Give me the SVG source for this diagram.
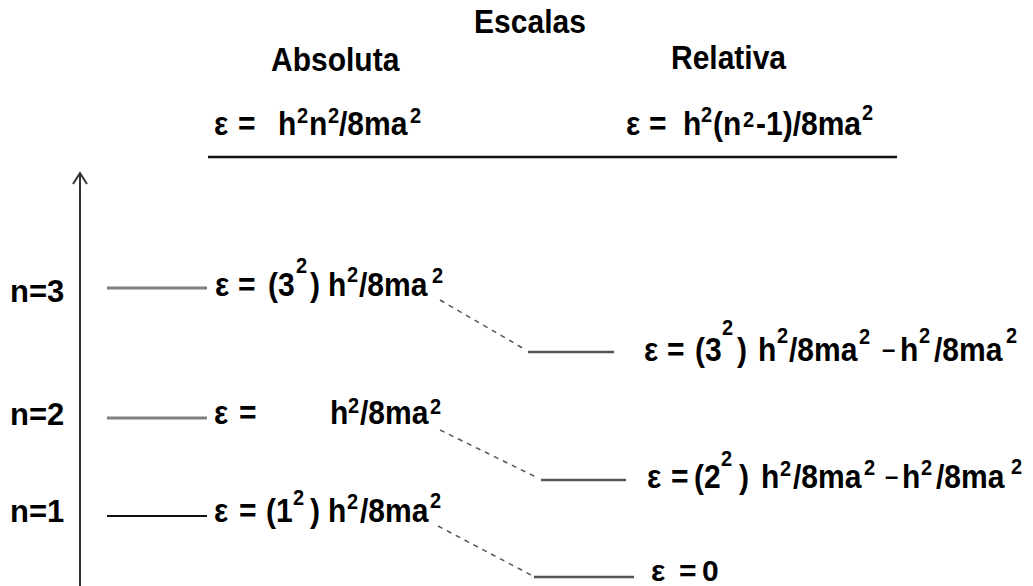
<svg xmlns="http://www.w3.org/2000/svg" width="1033" height="586" viewBox="0 0 1033 586">
<style>
text{font-family:"Liberation Sans",Arial,sans-serif;font-weight:bold;fill:#000;font-size:30px}
.s{font-size:20px}
.d{font-size:24px}
.lbl{font-size:31px}
.lg{stroke:#808080;stroke-width:3;fill:none}
.lk{stroke:#111;stroke-width:2;fill:none}
.lr{stroke:#555;stroke-width:2.5;fill:none}
.dash{stroke:#555;stroke-width:1.5;stroke-dasharray:5 5;fill:none}
.axis{stroke:#333;stroke-width:2;fill:none}
</style>
<rect width="1033" height="586" fill="#fff"/>
<g id="header">
<text x="530" y="33" text-anchor="middle" transform="matrix(1 0 0 1.08 0 -2.64)">Escalas</text>
<text x="271" y="71" transform="matrix(1 0 0 1.08 0 -5.68)">Absoluta</text>
<text x="671" y="69" transform="matrix(1 0 0 1.08 0 -5.52)">Relativa</text>
<text transform="matrix(1 0 0 1.08 0 -10.8)"><tspan x="214" y="135">ε</tspan><tspan x="238" y="135">=</tspan><tspan x="278" y="135">h</tspan><tspan class="s" x="297" y="124">2</tspan><tspan x="309" y="135">n</tspan><tspan class="s" x="328" y="124">2</tspan><tspan x="339" y="135">/8ma</tspan><tspan class="s" x="410" y="124">2</tspan></text>
<text transform="matrix(1 0 0 1.08 0 -10.8)"><tspan x="626" y="135">ε</tspan><tspan x="649" y="135">=</tspan><tspan x="683" y="135">h</tspan><tspan class="s" x="701" y="123">2</tspan><tspan x="713" y="135">(n</tspan><tspan class="s" x="743" y="128">2</tspan><tspan x="756" y="135">-1)/8ma</tspan><tspan class="s" x="862" y="121">2</tspan></text>
<line x1="208" y1="157" x2="897" y2="157" stroke="#111" stroke-width="2.5"/>
</g>
<g id="axis">
<line class="axis" x1="80" y1="173" x2="80" y2="586"/>
<polyline class="axis" points="73,184 80,173 87,184"/>
</g>
<g id="n3">
<text class="lbl" x="10" y="302">n=3</text>
<line class="lg" x1="107" y1="288" x2="207" y2="288"/>
<text transform="matrix(1 0 0 1.08 0 -23.68)"><tspan x="215" y="296">ε</tspan><tspan x="238" y="296">=</tspan><tspan x="268" y="296">(3</tspan><tspan class="s" x="296" y="275">2</tspan><tspan x="310" y="296">)</tspan><tspan x="328" y="296">h</tspan><tspan class="s" x="347" y="283">2</tspan><tspan x="359" y="296">/8ma</tspan><tspan class="s" x="432" y="284">2</tspan></text>
</g>
<g id="n2">
<text class="lbl" x="10" y="425">n=2</text>
<line class="lg" x1="107" y1="418" x2="207" y2="418"/>
<text transform="matrix(1 0 0 1.08 0 -33.92)"><tspan x="214" y="424">ε</tspan><tspan x="239" y="424">=</tspan><tspan x="330" y="424">h</tspan><tspan class="s" x="348" y="414">2</tspan><tspan x="360" y="424">/8ma</tspan><tspan class="s" x="430" y="415">2</tspan></text>
</g>
<g id="n1">
<text class="lbl" x="10" y="522">n=1</text>
<line class="lk" x1="107" y1="516" x2="207" y2="516"/>
<text transform="matrix(1 0 0 1.08 0 -41.76)"><tspan x="214" y="522">ε</tspan><tspan x="239" y="522">=</tspan><tspan x="266" y="522">(1</tspan><tspan class="s" x="293" y="506">2</tspan><tspan x="310" y="522">)</tspan><tspan x="328" y="522">h</tspan><tspan class="s" x="347" y="510">2</tspan><tspan x="360" y="522">/8ma</tspan><tspan class="s" x="430" y="509">2</tspan></text>
</g>
<g id="r3">
<line class="lr" x1="528" y1="352" x2="614" y2="352"/>
<text transform="matrix(1 0 0 1.08 0 -28.88)"><tspan x="644" y="361">ε</tspan><tspan x="667" y="361">=</tspan><tspan x="695" y="361">(3</tspan><tspan class="s" x="722" y="337">2</tspan><tspan x="737" y="361">)</tspan><tspan x="758" y="361">h</tspan><tspan class="s" x="777" y="344">2</tspan><tspan x="789" y="361">/8ma</tspan><tspan class="s" x="859" y="345">2</tspan><tspan class="d" x="882" y="358">–</tspan><tspan x="900" y="361">h</tspan><tspan class="s" x="919" y="344">2</tspan><tspan x="934" y="361">/8ma</tspan><tspan class="s" x="1006" y="344">2</tspan></text>
</g>
<g id="r2">
<line class="lr" x1="541" y1="480" x2="626" y2="480"/>
<text transform="matrix(1 0 0 1.08 0 -39.04)"><tspan x="647" y="488">ε</tspan><tspan x="671" y="488">=</tspan><tspan x="694" y="488">(2</tspan><tspan class="s" x="721" y="468">2</tspan><tspan x="739" y="488">)</tspan><tspan x="761" y="488">h</tspan><tspan class="s" x="780" y="477">2</tspan><tspan x="793" y="488">/8ma</tspan><tspan class="s" x="864" y="476">2</tspan><tspan class="d" x="885" y="485">–</tspan><tspan x="902" y="488">h</tspan><tspan class="s" x="921" y="476">2</tspan><tspan x="936" y="488">/8ma</tspan><tspan class="s" x="1011" y="475">2</tspan></text>
</g>
<g id="r1">
<line class="lr" x1="534" y1="577" x2="634" y2="577"/>
<text><tspan x="651" y="581">ε</tspan><tspan x="679" y="581">=</tspan><tspan x="702" y="581">0</tspan></text>
</g>
<g id="connectors">
<line class="dash" x1="440" y1="300" x2="526" y2="350"/>
<line class="dash" x1="440" y1="430" x2="538" y2="478"/>
<line class="dash" x1="438" y1="526" x2="531" y2="575"/>
</g>
</svg>
